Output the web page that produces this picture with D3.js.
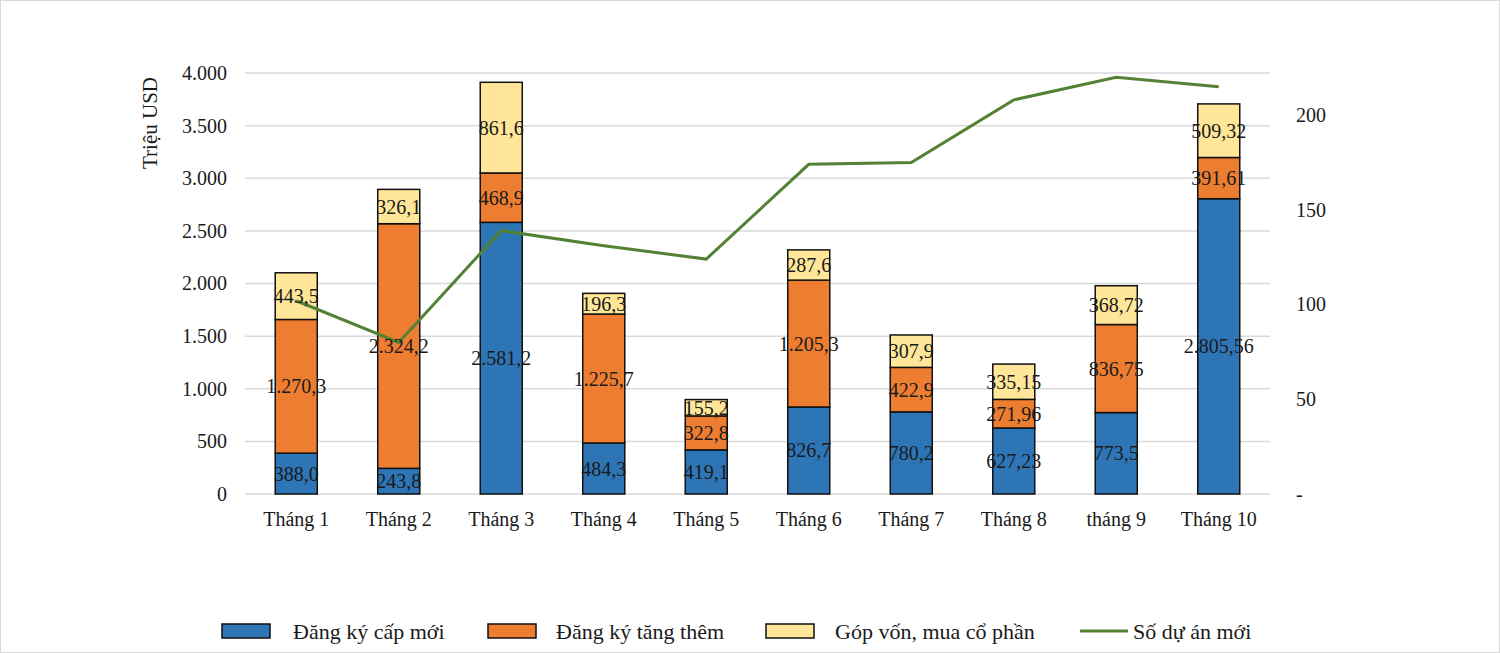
<!DOCTYPE html>
<html><head><meta charset="utf-8">
<script src="https://cdn.jsdelivr.net/npm/d3@7"></script>
<style>body{margin:0;background:#fff}svg{display:block}text{font-family:"Liberation Serif","Times New Roman",serif !important;fill:#1a1a1a}</style>
</head><body><svg id="c" width="1500" height="653"></svg>
<script>
const categories = ["Tháng 1","Tháng 2","Tháng 3","Tháng 4","Tháng 5","Tháng 6","Tháng 7","Tháng 8","tháng 9","Tháng 10"];
const capMoi = [388.0,243.8,2581.2,484.3,419.1,826.7,780.2,627.23,773.5,2805.56];
const tangThem = [1270.3,2324.2,468.9,1225.7,322.8,1205.3,422.9,271.96,836.75,391.61];
const gopVon = [443.5,326.1,861.6,196.3,155.2,287.6,307.9,335.15,368.72,509.32];
const capMoiLabels = ["388,0","243,8","2.581,2","484,3","419,1","826,7","780,2","627,23","773,5","2.805,56"];
const tangThemLabels = ["1.270,3","2.324,2","468,9","1.225,7","322,8","1.205,3","422,9","271,96","836,75","391,61"];
const gopVonLabels = ["443,5","326,1","861,6","196,3","155,2","287,6","307,9","335,15","368,72","509,32"];
const soDuAn = [102,80,139,131,124,174,175,208,220,215];
const leftTicks = [0,500,1000,1500,2000,2500,3000,3500,4000];
const leftTickLabels = ["0","500","1.000","1.500","2.000","2.500","3.000","3.500","4.000"];
const rightTicks = [0,50,100,150,200];
const rightTickLabels = ["-","50","100","150","200"];
const seriesNames = ["Đăng ký cấp mới","Đăng ký tăng thêm","Góp vốn, mua cổ phần","Số dự án mới"];
const colors = ["#2e75b6","#ed7d31","#ffe699","#548235"];

const FONT = "'Liberation Serif', 'Times New Roman', serif";
const svg = d3.select("#c").attr("font-family",FONT);
svg.append("rect").attr("x",0.5).attr("y",0.5).attr("width",1499).attr("height",652).attr("fill","#fff").attr("stroke","#d9d9d9");
const L=245,R=1270,T=73,B=494;
const x = d3.scaleBand().domain(categories).range([L,R]).paddingInner(0.59).paddingOuter(0.295);
const y = d3.scaleLinear().domain([0,4000]).range([B,T]);
const y2 = d3.scaleLinear().domain([0,222.2]).range([B,T]);

// grid
svg.append("g").selectAll("line").data(leftTicks).join("line")
  .attr("x1",L).attr("x2",R).attr("y1",d=>y(d)).attr("y2",d=>y(d))
  .attr("stroke","#d9d9d9").attr("stroke-width",1.5);

function styleAxis(g){
  g.attr("font-family",FONT).attr("font-size",20);
  g.select(".domain").remove();
  g.selectAll("text").attr("fill","#1a1a1a");
}
// left axis
const ax = d3.axisLeft(y).tickValues(leftTicks).tickSize(0).tickPadding(18).tickFormat((d,i)=>leftTickLabels[i]);
svg.append("g").attr("transform",`translate(${L},0)`).call(ax).call(styleAxis);
// right axis
const ax2 = d3.axisRight(y2).tickValues(rightTicks).tickSize(0).tickPadding(26).tickFormat((d,i)=>rightTickLabels[i]);
svg.append("g").attr("transform",`translate(${R},0)`).call(ax2).call(styleAxis);
// x axis labels
const axb = d3.axisBottom(x).tickSize(0).tickPadding(18);
svg.append("g").attr("transform",`translate(0,${B})`).call(axb).call(styleAxis);

// y title
svg.append("text").attr("transform","translate(157,123) rotate(-90)").attr("text-anchor","middle")
  .style("font-size","21px").text("Triệu USD");

// stacked bars
const rows = categories.map((c,i)=>({c, a:capMoi[i], b:tangThem[i], g:gopVon[i], i}));
const stack = d3.stack().keys(["a","b","g"])(rows);
const labelSets = [capMoiLabels,tangThemLabels,gopVonLabels];
stack.forEach((s,k)=>{
  svg.append("g").selectAll("rect").data(s).join("rect")
    .attr("x",d=>x(d.data.c)).attr("width",x.bandwidth())
    .attr("y",d=>y(d[1])).attr("height",d=>y(d[0])-y(d[1]))
    .attr("fill",colors[k]).attr("stroke","#111").attr("stroke-width",1.5);
});
// line
const line = d3.line().x((d,i)=>x(categories[i])+x.bandwidth()/2).y(d=>y2(d));
svg.append("path").datum(soDuAn).attr("d",line).attr("fill","none").attr("stroke",colors[3]).attr("stroke-width",3);
// labels
stack.forEach((s,k)=>{
  svg.append("g").selectAll("text").data(s).join("text")
    .attr("x",d=>x(d.data.c)+x.bandwidth()/2).attr("y",d=>(y(d[0])+y(d[1]))/2)
    .attr("text-anchor","middle").attr("dy","0.35em").style("font-size","20px")
    .text(d=>labelSets[k][d.data.i]);
});

// legend
const legY=631;
const legItems = [{x:222,tx:293},{x:488,tx:556},{x:766,tx:835},{x:1080,tx:1133}];
legItems.forEach((it,k)=>{
  if(k<3){
    svg.append("rect").attr("x",it.x).attr("y",legY-7).attr("width",48).attr("height",14)
      .attr("fill",colors[k]).attr("stroke","#111").attr("stroke-width",1.5);
  } else {
    svg.append("line").attr("x1",it.x).attr("x2",it.x+48).attr("y1",legY).attr("y2",legY)
      .attr("stroke",colors[3]).attr("stroke-width",3);
  }
  svg.append("text").attr("x",it.tx).attr("y",legY).attr("dy","0.35em").style("font-size","22px").text(seriesNames[k]);
});
</script></body></html>
